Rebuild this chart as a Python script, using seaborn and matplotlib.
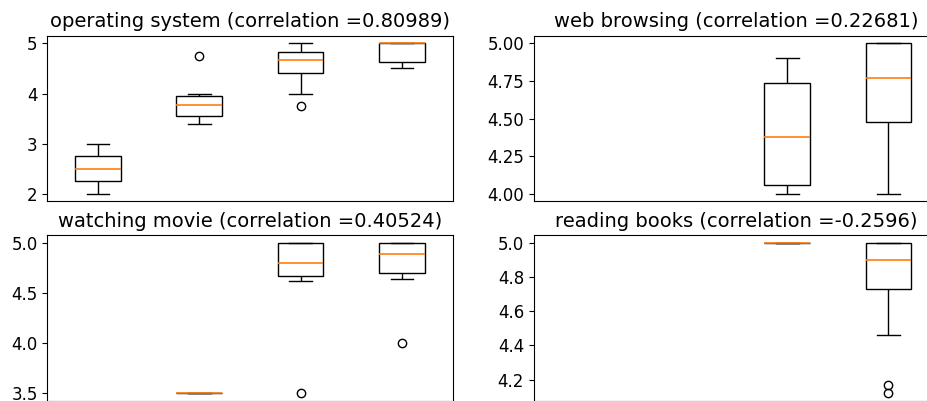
import matplotlib
matplotlib.use("Agg")
import matplotlib.pyplot as plt
import seaborn as sns
import pandas as pd

# Rating groups on the x axis (no tick labels are shown)
groups = ["1", "2", "3", "4"]

# Activity names and their correlation coefficients
activities = ["operating system", "web browsing", "watching movie", "reading books"]
correlations = ["0.80989", "0.22681", "0.40524", "-0.2596"]

# Scores per rating group for each activity (empty list = no responses)
operating_system = [
    [2.0, 2.5, 3.0],
    [3.4, 3.5, 3.74, 3.8, 4.0, 4.75],
    [3.75, 4.0, 4.55, 4.6, 4.72, 4.8, 4.92, 5.0],
    [4.5, 4.625, 5.0, 5.0, 5.0],
]
web_browsing = [
    [],
    [],
    [4.0, 4.08, 4.68, 4.9],
    [4.0, 4.48, 4.77, 5.0, 5.0],
]
watching_movie = [
    [],
    [3.5],
    [3.5, 4.62, 4.72, 4.8, 5.0, 5.0, 5.0],
    [4.0, 4.64, 4.76, 4.89, 5.0, 5.0, 5.0],
]
reading_books = [
    [],
    [],
    [5.0],
    [4.12, 4.17, 4.46, 4.82, 4.85, 4.9, 4.9, 4.95, 5.0, 5.0, 5.0, 5.0],
]

# Y tick values for each panel
os_ticks = [2, 3, 4, 5]
web_ticks = [4.00, 4.25, 4.50, 4.75, 5.00]
movie_ticks = [3.5, 4.0, 4.5, 5.0]
books_ticks = [4.2, 4.4, 4.6, 4.8, 5.0]

panels = [operating_system, web_browsing, watching_movie, reading_books]
panel_ticks = [os_ticks, web_ticks, movie_ticks, books_ticks]

W, H = 927, 401
fig = plt.figure(figsize=(W / 100, H / 100), dpi=100)

ax_w, ax_h = 405.3, 165.6
lefts = [47.3, 533.8]
tops = [35.8, 235.3]
positions = [(lefts[0], tops[0]), (lefts[1], tops[0]),
             (lefts[0], tops[1]), (lefts[1], tops[1])]

for (lx, ty), name, corr, scores, yt in zip(positions, activities, correlations,
                                            panels, panel_ticks):
    ax = fig.add_axes([lx / W, (H - ty - ax_h) / H, ax_w / W, ax_h / H])
    rows = [(g, v) for g, vals in zip(groups, scores) for v in vals]
    df = pd.DataFrame(rows, columns=["group", "score"])
    sns.boxplot(
        data=df, x="group", y="score", order=groups, ax=ax,
        width=0.45, color="white", linecolor="black", linewidth=1.0,
        fliersize=6,
        medianprops=dict(color="#ff7f0e", linewidth=1.2, zorder=3),
        flierprops=dict(marker="o", markerfacecolor="none",
                        markeredgecolor="black", markeredgewidth=1.0),
    )
    ax.set_xticks([])
    ax.set_yticks(yt)
    ax.set_xlabel("")
    ax.set_ylabel("")
    ax.tick_params(axis="y", labelsize=12)
    ax.set_title(f"{name} (correlation ={corr})", fontsize=14)

fig.savefig("out.png", dpi=100)
